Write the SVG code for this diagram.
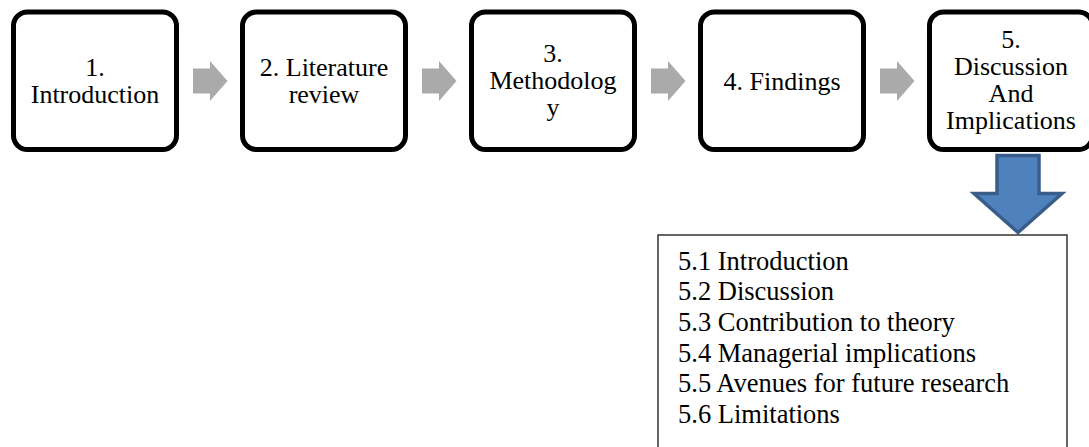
<svg xmlns="http://www.w3.org/2000/svg" width="1089" height="447" viewBox="0 0 1089 447">
<style>
.box{fill:#fff;stroke:#000;stroke-width:5}
.t{font-family:"Liberation Serif","Times New Roman",serif;font-size:26px;fill:#000;text-anchor:middle}
.l{font-family:"Liberation Serif","Times New Roman",serif;font-size:26.5px;fill:#000}
.ga{fill:#AAAAAA}
.ba{fill:#4F81BD;stroke:#385D8A;stroke-width:3.5;stroke-linejoin:miter}
</style>
<rect width="1089" height="447" fill="#fff"/>
<g id="connectors">
<polygon class="ga" points="193,68.5 210,68.5 210,61 227.5,81 210,101 210,93.5 193,93.5"/>
<polygon class="ga" points="422,68.5 439,68.5 439,61 456.5,81 439,101 439,93.5 422,93.5"/>
<polygon class="ga" points="651,68.5 668,68.5 668,61 685.5,81 668,101 668,93.5 651,93.5"/>
<polygon class="ga" points="880,68.5 897,68.5 897,61 914.5,81 897,101 897,93.5 880,93.5"/>
<polygon class="ba" points="997,155.5 1039,155.5 1039,193.5 1062,193.5 1018,232.5 974,193.5 997,193.5"/>
</g>
<g id="n1">
<rect class="box" x="13.5" y="12" width="163" height="137.5" rx="14"/>
<text class="t" x="95" y="75.5">1.</text>
<text class="t" x="95" y="102.5">Introduction</text>
</g>
<g id="n2">
<rect class="box" x="242.5" y="12" width="163" height="137.5" rx="14"/>
<text class="t" x="324" y="75.5">2. Literature</text>
<text class="t" x="324" y="102.5">review</text>
</g>
<g id="n3">
<rect class="box" x="471.5" y="12" width="163" height="137.5" rx="14"/>
<text class="t" x="553" y="62">3.</text>
<text class="t" x="553" y="89">Methodolog</text>
<text class="t" x="553" y="116">y</text>
</g>
<g id="n4">
<rect class="box" x="700.5" y="12" width="163" height="137.5" rx="14"/>
<text class="t" x="782" y="89.5">4. Findings</text>
</g>
<g id="n5">
<rect class="box" x="929.5" y="12" width="163" height="137.5" rx="14"/>
<text class="t" x="1011" y="47.5">5.</text>
<text class="t" x="1011" y="74.5">Discussion</text>
<text class="t" x="1011" y="101.5">And</text>
<text class="t" x="1011" y="128.5">Implications</text>
</g>
<g id="n6">
<rect x="658" y="235" width="409" height="230" fill="#fff" stroke="#333" stroke-width="1.5"/>
<text class="l" x="678" y="269.5">5.1 Introduction</text>
<text class="l" x="678" y="300.2">5.2 Discussion</text>
<text class="l" x="678" y="330.9">5.3 Contribution to theory</text>
<text class="l" x="678" y="361.6">5.4 Managerial implications</text>
<text class="l" x="678" y="392.3">5.5 Avenues for future research</text>
<text class="l" x="678" y="423">5.6 Limitations</text>
</g>
</svg>
